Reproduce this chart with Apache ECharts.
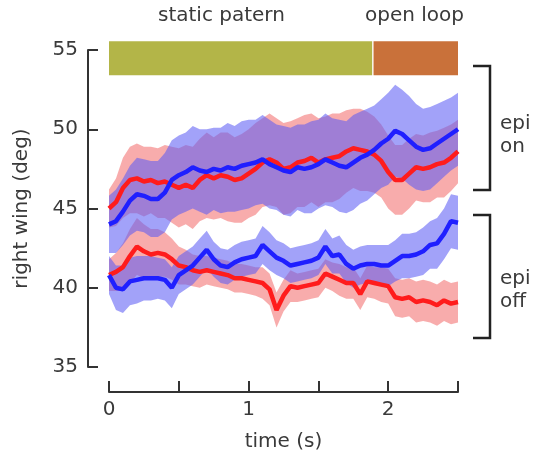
<!DOCTYPE html>
<html>
<head>
<meta charset="utf-8">
<script src="https://cdn.jsdelivr.net/npm/echarts@6/dist/echarts.min.js"></script>
<style>
  html, body { margin: 0; padding: 0; background: #fff; }
  #chart { width: 535px; height: 457px; }
</style>
</head>
<body>
<div id="chart"></div>
<script>
// time samples (s)
var times = [0, 0.05, 0.1, 0.15, 0.2, 0.25, 0.3, 0.35, 0.4, 0.45,
  0.5, 0.55, 0.6, 0.65, 0.7, 0.75, 0.8, 0.85, 0.9, 0.95,
  1.0, 1.05, 1.1, 1.15, 1.2, 1.25, 1.3, 1.35, 1.4, 1.45,
  1.5, 1.55, 1.6, 1.65, 1.7, 1.75, 1.8, 1.85, 1.9, 1.95,
  2.0, 2.05, 2.1, 2.15, 2.2, 2.25, 2.3, 2.35, 2.4, 2.45, 2.5];

// epi on
var onRed = [45.0, 45.4, 46.3, 46.8, 46.9, 46.7, 46.8, 46.6, 46.7, 46.5,
  46.3, 46.5, 46.3, 46.8, 47.1, 46.9, 47.1, 47.0, 46.8, 46.9,
  47.2, 47.5, 47.9, 48.1, 47.9, 47.5, 47.6, 47.9, 48.0, 48.2,
  47.9, 48.1, 48.2, 48.3, 48.6, 48.8, 48.7, 48.6, 48.4, 48.0,
  47.3, 46.8, 46.8, 47.2, 47.6, 47.5, 47.6, 47.8, 47.9, 48.2, 48.6];
var onRedSpread = [1.2, 1.5, 1.9, 2.1, 2.2, 2.2, 2.1, 2.2, 2.3, 2.4,
  2.5, 2.5, 2.6, 2.6, 2.7, 2.6, 2.7, 2.8, 2.7, 2.8,
  2.8, 2.9, 2.8, 2.9, 2.8, 2.9, 2.9, 2.8, 2.9, 2.8,
  2.8, 2.7, 2.8, 2.7, 2.6, 2.5, 2.6, 2.5, 2.4, 2.3,
  2.3, 2.2, 2.2, 2.2, 2.1, 2.1, 2.2, 2.1, 2.2, 2.1, 2.0];
var onBlue = [44.0, 44.2, 44.8, 45.5, 45.9, 45.8, 45.6, 45.6, 46.0, 46.8,
  47.1, 47.3, 47.6, 47.4, 47.3, 47.5, 47.4, 47.6, 47.5, 47.7,
  47.8, 47.9, 48.1, 47.8, 47.6, 47.4, 47.3, 47.6, 47.5, 47.6,
  47.8, 48.1, 47.9, 47.7, 47.6, 47.9, 48.2, 48.4, 48.7, 49.1,
  49.4, 49.9, 49.7, 49.3, 48.9, 48.7, 48.8, 49.1, 49.4, 49.7, 50.0];
var onBlueSpread = [1.8, 2.0, 2.1, 2.2, 2.3, 2.3, 2.4, 2.4, 2.5, 2.5,
  2.5, 2.5, 2.6, 2.6, 2.7, 2.6, 2.7, 2.8, 2.7, 2.8,
  2.8, 2.7, 2.8, 2.8, 2.7, 2.8, 2.8, 2.7, 2.8, 2.9,
  2.8, 2.9, 2.8, 2.9, 2.9, 3.0, 2.9, 2.9, 2.8, 2.8,
  2.9, 2.9, 2.8, 2.8, 2.7, 2.6, 2.6, 2.5, 2.4, 2.3, 2.3];

// epi off
var offRed = [40.8, 41.0, 41.3, 42.0, 42.6, 42.3, 42.1, 42.2, 42.1, 41.8,
  41.4, 41.3, 41.1, 41.0, 41.1, 41.0, 40.9, 40.8, 40.6, 40.6,
  40.5, 40.4, 40.3, 39.9, 38.6, 39.5, 40.1, 40.0, 40.1, 40.2,
  40.3, 40.9, 40.7, 40.5, 40.3, 40.3, 39.6, 40.4, 40.3, 40.2,
  40.1, 39.4, 39.3, 39.4, 39.1, 39.2, 39.1, 38.9, 39.2, 39.0, 39.1];
var offRedSpread = [1.0, 1.2, 1.5, 1.7, 1.8, 1.7, 1.6, 1.5, 1.4, 1.3,
  1.2, 1.1, 1.0, 1.0, 0.9, 0.9, 0.9, 0.9, 0.9, 0.9,
  0.9, 0.9, 1.0, 1.0, 1.1, 1.0, 1.0, 0.9, 0.9, 0.9,
  0.9, 0.9, 0.9, 1.0, 1.0, 1.0, 1.0, 1.0, 1.0, 1.1,
  1.1, 1.2, 1.2, 1.2, 1.3, 1.3, 1.3, 1.3, 1.3, 1.3, 1.3];
var offBlue = [40.8, 40.0, 39.9, 40.4, 40.5, 40.6, 40.6, 40.6, 40.5, 40.0,
  40.8, 41.1, 41.4, 41.9, 42.4, 41.8, 41.4, 41.3, 41.6, 41.8,
  41.9, 42.0, 42.7, 42.3, 41.9, 41.7, 41.4, 41.5, 41.6, 41.7,
  41.9, 42.6, 42.0, 42.1, 41.5, 41.2, 41.4, 41.5, 41.5, 41.4,
  41.4, 41.7, 42.0, 42.0, 42.1, 42.3, 42.7, 42.8, 43.4, 44.2, 44.1];
var offBlueSpread = [1.2, 1.4, 1.5, 1.5, 1.5, 1.4, 1.4, 1.3, 1.3, 1.3,
  1.2, 1.2, 1.2, 1.2, 1.2, 1.1, 1.1, 1.1, 1.1, 1.1,
  1.1, 1.1, 1.2, 1.2, 1.1, 1.1, 1.1, 1.1, 1.1, 1.1,
  1.1, 1.1, 1.1, 1.2, 1.2, 1.2, 1.2, 1.2, 1.2, 1.3,
  1.3, 1.3, 1.4, 1.4, 1.4, 1.5, 1.5, 1.6, 1.6, 1.7, 1.7];

// stimulus phases on top
var phaseNames = ['static patern', 'open loop'];
var phaseStart = [0, 1.895];
var phaseEnd = [1.885, 2.5];
var yTicks = [35, 40, 45, 50, 55];
var xTickLabels = ['0', '1', '2'];

var FONT = 'DejaVu Sans';
var TXT = '#3a3a3a';
var RED = '#ff1c1c';
var BLUE = '#1f1fff';

var myChart = echarts.init(document.getElementById('chart'));

function zip(ys) {
  return times.map(function (t, i) { return [t, ys[i]]; });
}

// shaded spread: mean +- spread, polygon through the axes' coords
function band(mean, spread, color) {
  return {
    type: 'custom',
    silent: true,
    data: [0],
    renderItem: function (params, api) {
      var pts = [];
      for (var i = 0; i < times.length; i++) {
        pts.push(api.coord([times[i], mean[i] + spread[i]]));
      }
      for (var j = times.length - 1; j >= 0; j--) {
        pts.push(api.coord([times[j], mean[j] - spread[j]]));
      }
      return { type: 'polygon', shape: { points: pts }, style: { fill: color } };
    }
  };
}

function line(mean, color) {
  return {
    type: 'line',
    data: zip(mean),
    showSymbol: false,
    smooth: false,
    lineStyle: { color: color, width: 4.5 },
    silent: true
  };
}

var phaseColors = ['#b3b548', '#c9713a'];

var option = {
  animation: false,
  textStyle: { fontFamily: FONT, color: TXT },
  grid: { left: 109, right: 77, top: 50, bottom: 89 },
  xAxis: {
    type: 'value',
    min: 0,
    max: 2.5,
    interval: 0.5,
    offset: 25,
    name: 'time (s)',
    nameLocation: 'middle',
    nameGap: 40,
    nameTextStyle: { fontSize: 20, color: TXT, fontFamily: FONT },
    axisLine: { onZero: false, lineStyle: { color: '#333', width: 2 } },
    axisTick: { inside: true, length: 11, lineStyle: { color: '#333', width: 2 } },
    axisLabel: {
      fontSize: 20,
      color: TXT,
      margin: 8,
      formatter: function (v) {
        var s = String(Math.round(v * 10) / 10);
        return xTickLabels.indexOf(s) >= 0 ? s : '';
      }
    },
    splitLine: { show: false }
  },
  yAxis: {
    type: 'value',
    min: yTicks[0],
    max: yTicks[yTicks.length - 1],
    interval: 5,
    offset: 21,
    name: 'right wing (deg)',
    nameLocation: 'middle',
    nameGap: 56,
    nameTextStyle: { fontSize: 20, color: TXT, fontFamily: FONT },
    axisLine: { show: true, onZero: false, lineStyle: { color: '#333', width: 2 } },
    axisTick: { show: true, inside: true, length: 10, lineStyle: { color: '#333', width: 2 } },
    axisLabel: { fontSize: 20, color: TXT, margin: 10 },
    splitLine: { show: false }
  },
  series: [
    band(onRed, onRedSpread, 'rgba(242, 90, 90, 0.5)'),
    band(offRed, offRedSpread, 'rgba(242, 90, 90, 0.5)'),
    band(onBlue, onBlueSpread, 'rgba(95, 95, 245, 0.58)'),
    band(offBlue, offBlueSpread, 'rgba(95, 95, 245, 0.58)'),
    line(onRed, RED),
    line(offRed, RED),
    line(onBlue, BLUE),
    line(offBlue, BLUE),
    {
      type: 'custom',
      silent: true,
      clip: false,
      data: phaseNames.map(function (n, i) { return [phaseStart[i], phaseEnd[i], i]; }),
      renderItem: function (params, api) {
        var a = api.coord([api.value(0), 55.55]);
        var b = api.coord([api.value(1), 53.4]);
        return {
          type: 'rect',
          shape: { x: a[0], y: a[1], width: b[0] - a[0], height: b[1] - a[1] },
          style: { fill: phaseColors[api.value(2)] }
        };
      }
    }
  ],
  graphic: [
    { type: 'text', left: 158, top: 6, style: { text: phaseNames[0], fontSize: 20, fontFamily: FONT, fill: TXT } },
    { type: 'text', left: 365, top: 6, style: { text: phaseNames[1], fontSize: 20, fontFamily: FONT, fill: TXT } },
    { type: 'polyline', shape: { points: [[473, 66], [490, 66], [490, 190], [473, 190]] }, style: { stroke: '#222', lineWidth: 2.5, fill: null } },
    { type: 'polyline', shape: { points: [[473, 215], [490, 215], [490, 338], [473, 338]] }, style: { stroke: '#222', lineWidth: 2.5, fill: null } },
    { type: 'text', left: 500, top: 112, style: { text: 'epi\non', fontSize: 20, lineHeight: 23, fontFamily: FONT, fill: TXT } },
    { type: 'text', left: 500, top: 267, style: { text: 'epi\noff', fontSize: 20, lineHeight: 23, fontFamily: FONT, fill: TXT } }
  ]
};

myChart.setOption(option);
</script>
</body>
</html>
